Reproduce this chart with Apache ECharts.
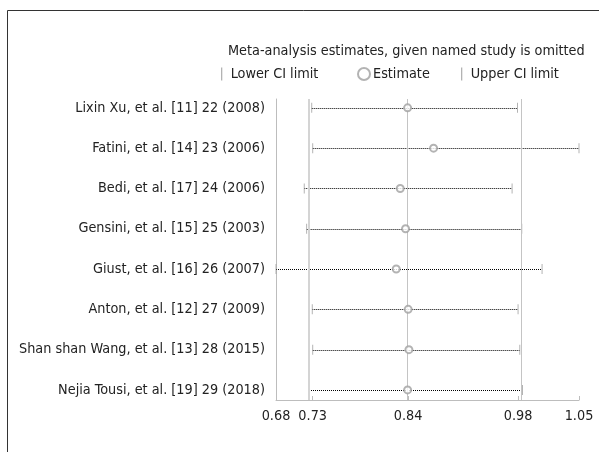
<!DOCTYPE html>
<html>
<head>
<meta charset="utf-8">
<script src="https://cdn.jsdelivr.net/npm/echarts@6/dist/echarts.min.js"></script>
<style>
html,body{margin:0;padding:0;background:#fff;}
#chart{width:599px;height:452px;}
</style>
</head>
<body>
<div id="chart"></div>
<script>
const studies = [
  'Lixin Xu, et al. [11] 22 (2008)',
  'Fatini, et al. [14] 23 (2006)',
  'Bedi, et al. [17] 24 (2006)',
  'Gensini, et al. [15] 25 (2003)',
  'Giust, et al. [16] 26 (2007)',
  'Anton, et al. [12] 27 (2009)',
  'Shan shan Wang, et al. [13] 28 (2015)',
  'Nejia Tousi, et al. [19] 29 (2018)'
];
const lowerCI  = [0.7236, 0.7248, 0.7145, 0.7174, 0.6800, 0.7243, 0.7248, 0.7203];
const estimate = [0.8407, 0.8724, 0.8317, 0.8382, 0.8268, 0.8414, 0.8423, 0.8407];
const upperCI  = [0.9749, 1.0500, 0.9683, 0.9801, 1.0049, 0.9756, 0.9777, 0.9810];
const tickValues = [0.68, 0.7248, 0.8414, 0.9756, 1.05];
const tickLabels = ['0.68', '0.73', '0.84', '0.98', '1.05'];
const refLines = [0.7248, 0.8414, 0.9756];
const titleText = 'Meta-analysis estimates, given named study is omitted';

const FONT = '"Liberation Sans Narrow","DejaVu Sans Condensed","Roboto Condensed",sans-serif';
const barPath = 'path://M0,0 L1,0 L1,10 L0,10 Z';
const rows = studies.map((s, i) => i + 1);

const chart = echarts.init(document.getElementById('chart'), null, {renderer: 'canvas'});
const option = {
  animation: false,
  backgroundColor: '#fff',
  title: {
    text: titleText, left: 228, top: 44, padding: 0,
    textStyle: {fontFamily: FONT, fontSize: 14.3, fontWeight: 'normal', color: '#222'}
  },
  legend: [
    {data: ['Lower CI limit'], left: 221, top: 67, padding: 0, itemWidth: 8, itemHeight: 13,
     icon: barPath, textStyle: {fontFamily: FONT, fontSize: 14.3, color: '#222'}},
    {data: ['Estimate'], left: 357, top: 67, padding: 0, itemWidth: 12, itemHeight: 12,
     icon: 'emptyCircle', textStyle: {fontFamily: FONT, fontSize: 14.3, color: '#222', padding: [0,0,0,-2]}},
    {data: ['Upper CI limit'], left: 461, top: 67, padding: 0, itemWidth: 8, itemHeight: 13,
     icon: barPath, textStyle: {fontFamily: FONT, fontSize: 14.3, color: '#222'}}
  ],
  grid: {left: 276, right: 20, top: 99, bottom: 52, containLabel: false},
  xAxis: {
    type: 'value', min: 0.68, max: 1.05,
    axisLine: {show: true, lineStyle: {color: '#bdbdbd', width: 1}},
    axisTick: {show: true, inside: true, length: 4, customValues: tickValues, lineStyle: {color: '#bdbdbd'}},
    axisLabel: {customValues: tickValues, margin: 9, fontFamily: FONT, fontSize: 14.3, color: '#222',
      formatter: v => { const k = tickValues.findIndex(t => Math.abs(t - v) < 1e-6); return k >= 0 ? tickLabels[k] : ''; }},
    splitLine: {show: false}
  },
  yAxis: {
    type: 'value', inverse: true, min: 0.78, max: 8.25,
    axisLine: {show: true, lineStyle: {color: '#bdbdbd', width: 1}},
    axisTick: {show: false},
    axisLabel: {customValues: rows, margin: 11, fontFamily: FONT, fontSize: 14.3, color: '#222',
      formatter: v => studies[Math.round(v) - 1] || ''},
    splitLine: {show: false}
  },
  series: [
    {
      type: 'custom', name: 'CI', silent: true, z: 3,
      data: studies.map((s, i) => [lowerCI[i], upperCI[i], i + 1]),
      renderItem: function (params, api) {
        const a = api.coord([api.value(0), api.value(2)]);
        const b = api.coord([api.value(1), api.value(2)]);
        const y = Math.round(a[1]) + 0.5;
        return {type: 'line', shape: {x1: a[0], y1: y, x2: b[0], y2: y},
          style: {stroke: '#000', lineWidth: 1, lineDash: [1, 1]}};
      },
      markLine: {
        silent: true, symbol: 'none', label: {show: false}, animation: false,
        lineStyle: {color: '#c4c4c4', type: 'solid', width: 1},
        data: refLines.map((v, k) => ({xAxis: v, lineStyle: k === 0 ? {width: 2, color: '#d4d4d4'} : {}}))
      }
    },
    {type: 'scatter', name: 'Lower CI limit', symbol: barPath, symbolSize: [1, 10], z: 4,
     itemStyle: {color: '#a0a0a0'}, data: studies.map((s, i) => [lowerCI[i], i + 1])},
    {type: 'scatter', name: 'Estimate', symbol: 'emptyCircle', symbolSize: 7, z: 5,
     itemStyle: {color: '#a0a0a0', borderWidth: 1}, data: studies.map((s, i) => [estimate[i], i + 1])},
    {type: 'scatter', name: 'Upper CI limit', symbol: barPath, symbolSize: [1, 10], z: 4,
     itemStyle: {color: '#a0a0a0'}, data: studies.map((s, i) => [upperCI[i], i + 1])}
  ],
  graphic: [
    {type: 'polyline', silent: true, shape: {points: [[7.5, 452], [7.5, 10.5], [599, 10.5]]},
     style: {stroke: '#333', lineWidth: 1, fill: null}}
  ]
};
chart.setOption(option);
</script>
</body>
</html>
